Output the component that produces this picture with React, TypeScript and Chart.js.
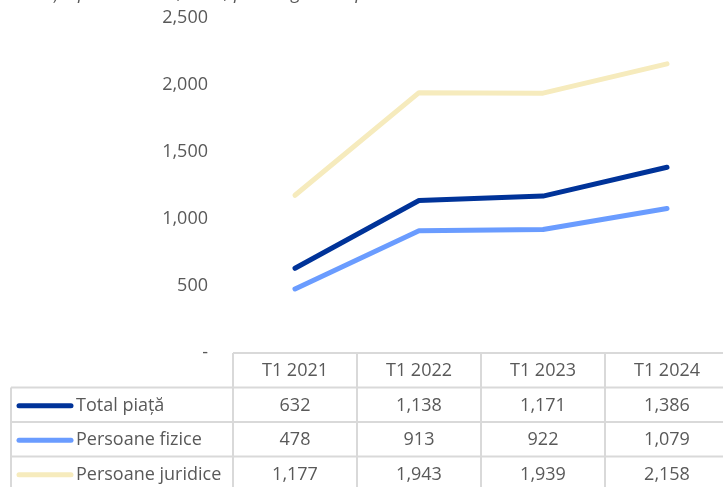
import React, { useEffect, useRef } from "react";
import { Chart, registerables } from "chart.js";

Chart.register(...registerables);

const title = "Evoluția primei medii, în lei, pe categorii de persoane";
const categories = ["T1 2021", "T1 2022", "T1 2023", "T1 2024"];
const seriesNames = ["Total piață", "Persoane fizice", "Persoane juridice"];
const totalPiata = [632, 1138, 1171, 1386];
const persoaneFizice = [478, 913, 922, 1079];
const persoaneJuridice = [1177, 1943, 1939, 2158];
const seriesColors = ["#003399", "#6a9cff", "#f6ebbd"];
const yTicks = [0, 500, 1000, 1500, 2000, 2500];

const FONT = "'Open Sans', 'Noto Sans', sans-serif";
const TEXT = "#595959";
const GRID = "#d9d9d9";

const fmt = (v: number) => (v === 0 ? "-" : v.toLocaleString("en-US"));

const tablePlugin = {
  id: "dataTable",
  afterDraw(chart: any) {
    const ctx = chart.ctx;
    const area = chart.chartArea;
    const n = categories.length;
    const colW = (area.right - area.left) / n;
    const rowH = 34.5;
    const top = area.bottom;
    const leftX = 11;
    ctx.save();
    // title (clipped at top)
    ctx.font = `italic 18px ${FONT}`;
    ctx.fillStyle = TEXT;
    ctx.textAlign = "left";
    ctx.textBaseline = "alphabetic";
    ctx.fillText(title, 10, -1);

    ctx.strokeStyle = GRID;
    ctx.lineWidth = 2;
    ctx.beginPath();
    ctx.moveTo(area.left, top);
    ctx.lineTo(area.right + 20, top);
    for (let r = 1; r <= 4; r++) {
      const y = top + r * rowH;
      ctx.moveTo(leftX, y);
      ctx.lineTo(area.right + 20, y);
    }
    for (let c = 0; c <= n; c++) {
      const x = area.left + c * colW;
      ctx.moveTo(x, top);
      ctx.lineTo(x, top + 4 * rowH);
    }
    ctx.moveTo(leftX, top + rowH);
    ctx.lineTo(leftX, top + 4 * rowH);
    ctx.stroke();

    ctx.font = `18px ${FONT}`;
    ctx.fillStyle = TEXT;
    ctx.textBaseline = "middle";
    ctx.textAlign = "center";
    const xs = chart.scales.x;
    categories.forEach((c, i) => {
      ctx.fillText(c, xs.getPixelForValue(i), top + rowH / 2 + 1);
    });
    chart.data.datasets.forEach((ds: any, r: number) => {
      const cy = top + (r + 1) * rowH + rowH / 2 + 1;
      ctx.strokeStyle = ds.borderColor;
      ctx.lineWidth = 5;
      ctx.lineCap = "round";
      ctx.beginPath();
      ctx.moveTo(19, cy);
      ctx.lineTo(71, cy);
      ctx.stroke();
      ctx.textAlign = "left";
      ctx.fillText(ds.label, 76, cy);
      ctx.textAlign = "center";
      ds.data.forEach((v: number, i: number) => {
        ctx.fillText(fmt(v), xs.getPixelForValue(i), cy);
      });
    });
    ctx.restore();
  },
};

export default function App() {
  const ref = useRef<HTMLCanvasElement>(null);
  useEffect(() => {
    if (!ref.current) return;
    const seriesData = [totalPiata, persoaneFizice, persoaneJuridice];
    const chart = new Chart(ref.current, {
      type: "line",
      data: {
        labels: categories,
        datasets: seriesNames.map((name, i) => ({
          label: name,
          data: seriesData[i],
          borderColor: seriesColors[i],
          backgroundColor: seriesColors[i],
          borderWidth: 5,
          borderCapStyle: "round" as const,
          borderJoinStyle: "round" as const,
          pointRadius: 0,
          tension: 0,
        })),
      },
      options: {
        animation: false,
        responsive: false,
        maintainAspectRatio: false,
        layout: { padding: { top: 18, bottom: 134, right: 11, left: 0 } },
        plugins: { legend: { display: false }, tooltip: { enabled: false } },
        scales: {
          x: { type: "category", offset: true, display: false },
          y: {
            min: 0,
            max: 2500,
            afterFit: (s: any) => {
              s.width = 233;
              s.paddingTop = 10;
              s.paddingBottom = 10;
            },
            afterBuildTicks: (s: any) => {
              s.ticks = yTicks.map((v) => ({ value: v }));
            },
            grid: { display: false, drawTicks: false },
            border: { display: false },
            ticks: {
              padding: 25,
              color: TEXT,
              font: { family: FONT, size: 18 },
              callback: (v: any) => fmt(Number(v)),
            },
          },
        },
      },
      plugins: [tablePlugin],
    });
    return () => chart.destroy();
  }, []);
  return (
    <div style={{ position: "fixed", left: 0, top: 0, width: 723, height: 487, overflow: "hidden", background: "#fff" }}>
      <canvas ref={ref} width={740} height={487} style={{ width: 740, height: 487, display: "block" }} />
    </div>
  );
}
